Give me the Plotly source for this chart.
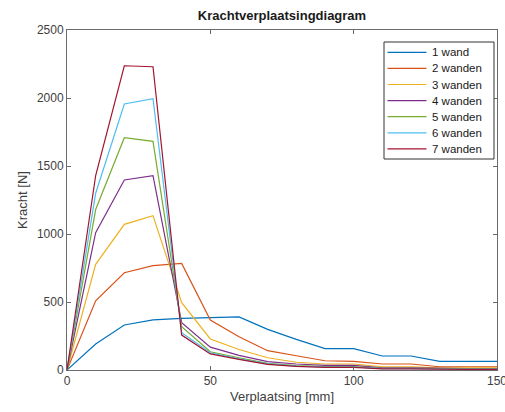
import plotly.graph_objects as go

x_mm = [0, 10, 20, 30, 40, 50, 60, 70, 80, 90, 100, 110, 120, 130, 140, 150]

wand1 = [0, 191, 331, 368, 380, 387, 390, 299, 225, 157, 157, 103, 103, 64, 64, 64]
wand2 = [0, 509, 715, 767, 784, 368, 245, 142, 105, 68, 63, 44, 44, 24, 24, 24]
wand3 = [0, 777, 1071, 1135, 495, 228, 151, 90, 57, 44, 44, 24, 24, 15, 15, 15]
wand4 = [0, 1010, 1397, 1429, 348, 168, 108, 61, 44, 34, 34, 15, 15, 10, 10, 10]
wand5 = [0, 1180, 1708, 1681, 318, 134, 90, 49, 32, 25, 25, 12, 12, 8, 8, 8]
wand6 = [0, 1300, 1956, 1995, 274, 127, 82, 45, 28, 22, 22, 10, 10, 6, 6, 6]
wand7 = [0, 1430, 2237, 2230, 257, 118, 78, 42, 26, 20, 20, 9, 9, 5, 5, 5]

series = [wand1, wand2, wand3, wand4, wand5, wand6, wand7]
names = ["1 wand", "2 wanden", "3 wanden", "4 wanden", "5 wanden", "6 wanden", "7 wanden"]
colors = ["#0072BD", "#D95319", "#EDB120", "#7E2F8E", "#77AC30", "#4DBEEE", "#A2142F"]

x_ticks = [0, 50, 100, 150]
y_ticks = [0, 500, 1000, 1500, 2000, 2500]

W, H = 505, 412
ML, MR, MT, MB = 67, 8, 30, 42
PW, PH = W - ML - MR, H - MT - MB

fig = go.Figure()
for vals, nm, c in zip(series, names, colors):
    fig.add_trace(go.Scatter(x=x_mm, y=vals, mode="lines", name=nm,
                             line=dict(color=c, width=1.2), showlegend=False))

# Compact MATLAB-style legend drawn in paper coordinates
def px(xp):
    return (xp - ML) / PW

def py(yp):
    return (H - MB - yp) / PH

box_l, box_r, box_t, box_b = 384, 494, 42, 159
fig.add_shape(type="rect", xref="paper", yref="paper",
              x0=px(box_l), x1=px(box_r), y0=py(box_b), y1=py(box_t),
              line=dict(color="#333", width=1), fillcolor="white", layer="above")
row0, row_step = 52.3, 16.1
for i, (nm, c) in enumerate(zip(names, colors)):
    yc = row0 + i * row_step
    fig.add_shape(type="line", xref="paper", yref="paper",
                  x0=px(387.5), x1=px(426.5), y0=py(yc), y1=py(yc),
                  line=dict(color=c, width=1.2), layer="above")
    fig.add_annotation(x=px(429.5), y=py(yc), xref="paper", yref="paper",
                       text=nm, showarrow=False, xanchor="left", yanchor="middle",
                       font=dict(size=11.5, color="#1a1a1a"))

axis_col = "#6b6b6b"
fig.update_layout(
    width=W, height=H,
    margin=dict(l=ML, r=MR, t=MT, b=MB),
    paper_bgcolor="white", plot_bgcolor="white",
    font=dict(family="Liberation Sans, Arial, sans-serif", size=12, color="#404040"),
    title=dict(text="<b>Krachtverplaatsingdiagram</b>", x=0.5, xanchor="center",
               xref="paper", y=1, yref="container", yanchor="top", pad=dict(t=11),
               font=dict(size=13, color="#1a1a1a")),
    xaxis=dict(range=[0, 150], tickvals=x_ticks, showgrid=False, zeroline=False,
               showline=True, linecolor=axis_col, linewidth=1, mirror="ticks",
               ticks="inside", ticklen=4, tickcolor=axis_col,
               ticklabeloverflow="allow", automargin=False,
               title=dict(text="Verplaatsing [mm]", font=dict(size=13), standoff=4)),
    yaxis=dict(range=[0, 2500], tickvals=y_ticks, showgrid=False, zeroline=False,
               showline=True, linecolor=axis_col, linewidth=1, mirror="ticks",
               ticks="inside", ticklen=4, tickcolor=axis_col, automargin=False,
               title=dict(text="Kracht [N]", font=dict(size=13), standoff=6)),
    showlegend=False,
)

fig.write_html("out.html")
